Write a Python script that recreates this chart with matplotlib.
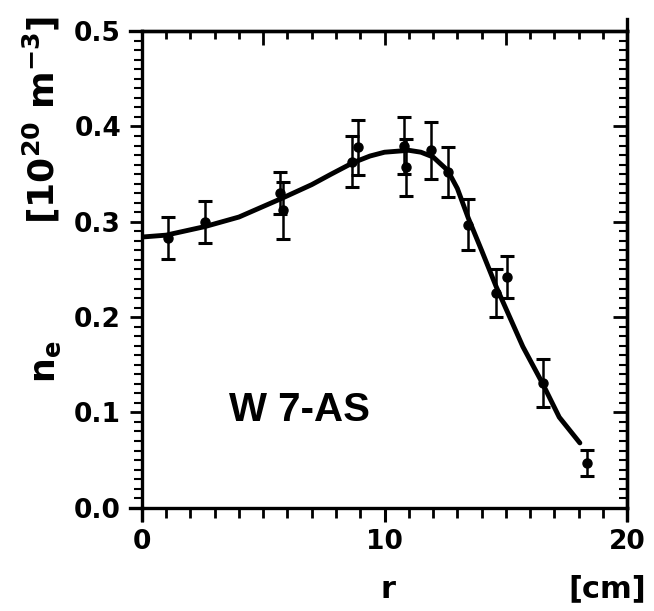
import matplotlib.pyplot as plt
from matplotlib.ticker import MultipleLocator
from matplotlib.lines import Line2D

plt.rcParams['font.family'] = ['DejaVu Sans']
plt.rcParams['mathtext.fontset'] = 'dejavusans'

# measured density profile (W7-AS)
r_pts = [1.07, 2.6, 5.69, 5.8, 8.65, 8.9, 10.8, 10.9, 11.9, 12.6, 13.45, 14.6, 15.05, 16.55, 18.35]
n_pts = [0.283, 0.300, 0.330, 0.312, 0.363, 0.378, 0.380, 0.357, 0.375, 0.352, 0.297, 0.225, 0.242, 0.131, 0.047]
n_err = [0.022, 0.022, 0.022, 0.030, 0.027, 0.029, 0.030, 0.030, 0.030, 0.026, 0.027, 0.025, 0.022, 0.025, 0.014]

# fitted profile
r_fit = [0, 0.5, 1, 2.6, 3.3, 4, 5.8, 6.4, 7, 7.8, 8.7, 9.4, 10, 11, 11.5, 12, 12.6, 13.0,
         13.45, 14.0, 14.6, 15.7, 16.5, 17.2, 18.05]
n_fit = [0.284, 0.285, 0.286, 0.295, 0.300, 0.305, 0.325, 0.332, 0.339, 0.350, 0.362, 0.369,
         0.373, 0.375, 0.373, 0.368, 0.354, 0.335, 0.304, 0.270, 0.232, 0.169, 0.131, 0.095, 0.068]

fig = plt.figure(figsize=(6.54, 6.11), dpi=100)
ax = fig.add_axes([0.217, 0.169, 0.742, 0.780])

ax.plot(r_fit, n_fit, color='black', lw=3.5, solid_capstyle='round')
ax.errorbar(r_pts, n_pts, yerr=n_err, fmt='o', color='black', ms=6.5,
            elinewidth=1.8, capsize=5, capthick=2.2)

ax.set_xlim(0, 20)
ax.set_ylim(0, 0.5)
ax.set_xticks([0, 10, 20])
ax.set_yticks([0.0, 0.1, 0.2, 0.3, 0.4, 0.5])
ax.set_yticklabels(['0.0', '0.1', '0.2', '0.3', '0.4', '0.5'])
ax.xaxis.set_minor_locator(MultipleLocator(1))
ax.yaxis.set_minor_locator(MultipleLocator(0.01))

for s in ax.spines.values():
    s.set_linewidth(2.4)

ax.tick_params(axis='both', which='both', color='black', labelsize=19)
for lab in ax.get_xticklabels() + ax.get_yticklabels():
    lab.set_fontweight('bold')
ax.tick_params(axis='x', which='major', direction='out', length=10, width=2.2, top=False, pad=5)
ax.tick_params(axis='x', which='minor', direction='out', length=7, width=2, top=False)
ax.tick_params(axis='y', which='major', direction='out', length=9, width=2, right=False, pad=6)
ax.tick_params(axis='y', which='minor', direction='out', length=6, width=1.5, right=False)

# inward ticks on the top and right frame
sec_x = ax.secondary_xaxis('top')
sec_x.xaxis.set_major_locator(MultipleLocator(5))
sec_x.xaxis.set_minor_locator(MultipleLocator(1))
sec_x.tick_params(which='major', direction='in', length=10, width=2, labeltop=False)
sec_x.tick_params(which='minor', direction='in', length=6, width=2)
sec_x.spines['top'].set_linewidth(2.4)
sec_y = ax.secondary_yaxis('right')
sec_y.yaxis.set_major_locator(MultipleLocator(0.1))
sec_y.yaxis.set_minor_locator(MultipleLocator(0.01))
sec_y.tick_params(which='major', direction='in', length=10, width=2, labelright=False)
sec_y.tick_params(which='minor', direction='in', length=6, width=1.5)
sec_y.spines['right'].set_linewidth(2.4)

# frame lines overshooting the corners
ext = 0.025
for xs, ys in [([-ext, 0], [1, 1]), ([-ext, 0], [0, 0]), ([0, 0], [-ext, 0]),
               ([1, 1], [-ext, 0]), ([1, 1], [1, 1 + ext])]:
    ax.add_line(Line2D(xs, ys, transform=ax.transAxes, color='black', lw=2.4, clip_on=False))

ax.text(6.5, 0.103, 'W 7-AS', fontsize=29, fontweight='bold', ha='center', va='center',
        family='Liberation Sans')

fig.text(0.593, 0.036, 'r', fontsize=22, fontweight='bold', ha='center', va='center')
fig.text(0.928, 0.036, '[cm]', fontsize=22, fontweight='bold', ha='center', va='center')
fig.text(0.070, 0.407, r'$\mathbf{n_e}$', fontsize=25, rotation=90, ha='center', va='center')
fig.text(0.064, 0.804, r'$\mathbf{[10^{20}\ m^{-3}]}$', fontsize=26,
         rotation=90, ha='center', va='center')

fig.savefig('out.png', dpi=100)
